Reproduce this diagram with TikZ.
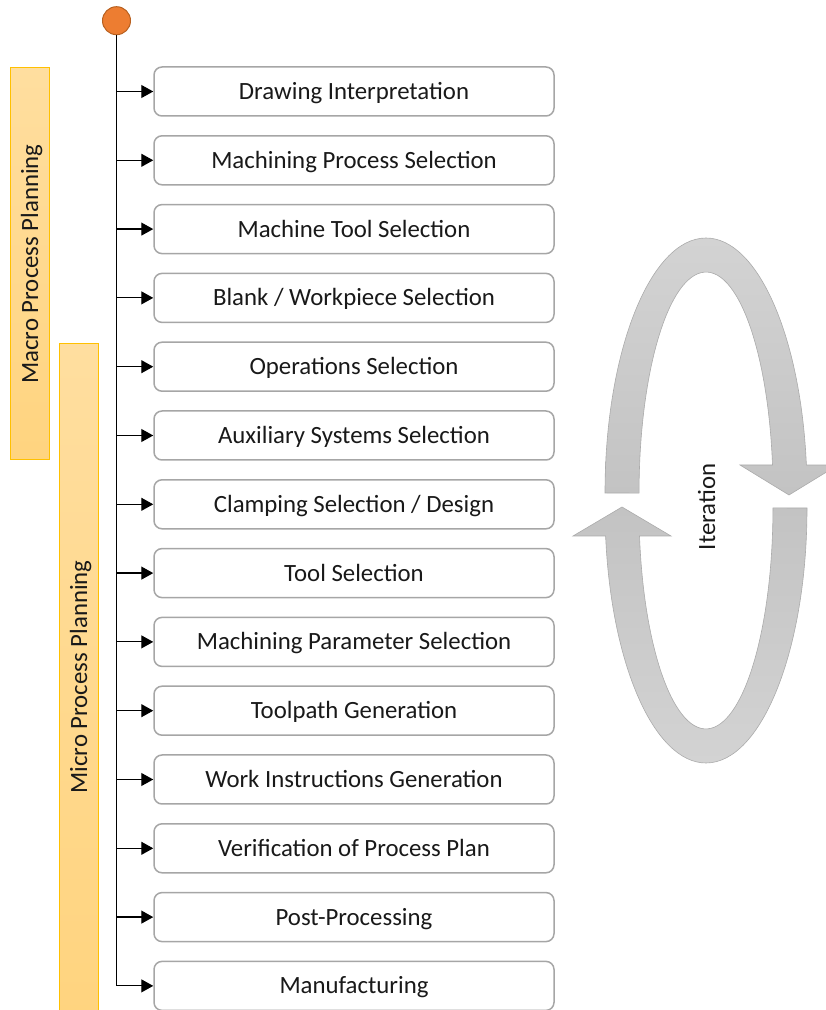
\documentclass[tikz,border=0pt]{standalone}
\usepackage{fontspec}
\setmainfont{Carlito}
\usetikzlibrary{arrows.meta}
\definecolor{boxgray}{HTML}{A6A6A6}
\definecolor{dotfill}{HTML}{ED7D31}
\definecolor{dotline}{HTML}{B8601F}
\definecolor{barline}{HTML}{FFC000}
\definecolor{bartop}{HTML}{FFDE9F}
\definecolor{barbot}{HTML}{FFD47F}
\definecolor{looplight}{HTML}{D3D3D3}
\definecolor{loopdark}{HTML}{C3C3C3}
\definecolor{loopline}{HTML}{ABABAB}
\begin{document}
\begin{tikzpicture}[x=1pt,y=1pt,
  txt/.style={font=\fontsize{24.8}{29}\selectfont, text=black!90, text height=20pt, text depth=4pt},
  stepbox/.style={txt, draw=boxgray, line width=1.5pt, rounded corners=8pt,
    minimum width=400pt, minimum height=49pt, inner sep=0pt, fill=white},
  link/.style={line width=1.2pt, -{Triangle[length=12pt,width=13pt]}},
  bar/.style={draw=barline, line width=1pt, top color=bartop, bottom color=barbot},
  looparrow/.style={draw=loopline, line width=0.6pt}]
\useasboundingbox (0,0) rectangle (826,1010);
\clip (0,0) rectangle (826,1010);

% phase bars
\path[bar] (10.7,942) rectangle (49.7,550);
\node[txt, rotate=90] (macro) at (30.2,746) {Macro Process Planning};
\path[bar] (59.3,666) rectangle (98.7,-5);
\node[txt, rotate=90] (micro) at (79,333) {Micro Process Planning};

% steps
\foreach \t [count=\i] in {Drawing Interpretation, Machining Process Selection,
  Machine Tool Selection, Blank / Workpiece Selection, Operations Selection,
  Auxiliary Systems Selection, Clamping Selection / Design, Tool Selection,
  Machining Parameter Selection, Toolpath Generation, Work Instructions Generation,
  Verification of Process Plan, Post-Processing, Manufacturing}
  {\node[stepbox] (b\i) at (354,{918.5-68.8*(\i-1)}) {\t};}

\node[circle, fill=dotfill, draw=dotline, line width=1pt, minimum size=28pt, inner sep=0pt] (start) at (116.5,989.3) {};
\foreach \i in {1,...,14} \draw[link] (start.south) |- (b\i.west);

% iteration loop
\path[looparrow, top color=looplight, bottom color=loopdark]
  (605,517) arc[start angle=180, end angle=6.3, x radius=101, y radius=255]
  -- (838,545) -- (789,515) -- (740,545) -- (772.5,545)
  arc[start angle=7.3, end angle=180, x radius=67, y radius=221] -- cycle;
\path[looparrow, top color=loopdark, bottom color=looplight]
  (807,502) arc[start angle=0, end angle=-173.7, x radius=101, y radius=255]
  -- (573,474) -- (622,503) -- (671,474) -- (639.5,474)
  arc[start angle=-172.7, end angle=0, x radius=67, y radius=221] -- cycle;
\node[txt, rotate=90] (iter) at (707,503) {Iteration};
\end{tikzpicture}
\end{document}
